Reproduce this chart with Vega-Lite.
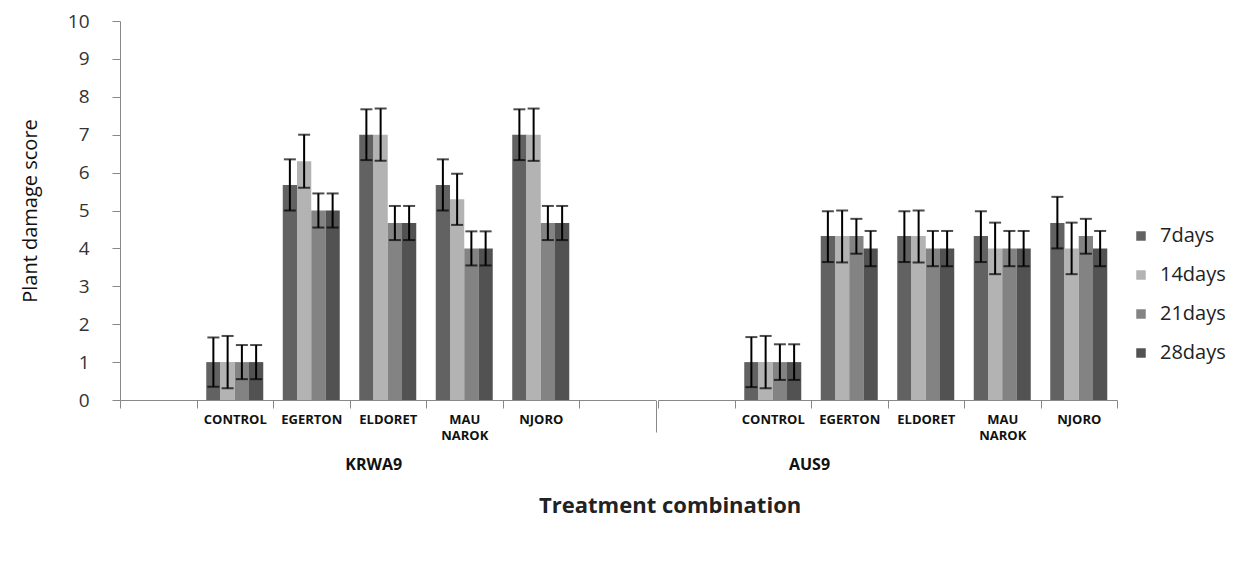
{
  "$schema": "https://vega.github.io/schema/vega-lite/v6.json",
  "background": "white",
  "padding": {"left": 20, "top": 12, "right": 5, "bottom": 5},
  "config": {"view": {"stroke": null}, "font": "Open Sans"},
  "title": {"text": "Treatment combination", "orient": "bottom", "fontSize": 22, "fontWeight": "bold", "offset": 23, "anchor": "middle", "dx": 47, "color": "#222222", "font": "Open Sans"},
  "data": {"values": [
    {"group": "KRWA9", "site": "CONTROL", "days": "7days", "value": 1.0, "lo": 0.35, "hi": 1.65},
    {"group": "KRWA9", "site": "CONTROL", "days": "14days", "value": 1.0, "lo": 0.31, "hi": 1.69},
    {"group": "KRWA9", "site": "CONTROL", "days": "21days", "value": 1.0, "lo": 0.55, "hi": 1.45},
    {"group": "KRWA9", "site": "CONTROL", "days": "28days", "value": 1.0, "lo": 0.55, "hi": 1.45},
    {"group": "KRWA9", "site": "EGERTON", "days": "7days", "value": 5.67, "lo": 5.0, "hi": 6.35},
    {"group": "KRWA9", "site": "EGERTON", "days": "14days", "value": 6.3, "lo": 5.6, "hi": 7.0},
    {"group": "KRWA9", "site": "EGERTON", "days": "21days", "value": 5.0, "lo": 4.55, "hi": 5.45},
    {"group": "KRWA9", "site": "EGERTON", "days": "28days", "value": 5.0, "lo": 4.55, "hi": 5.45},
    {"group": "KRWA9", "site": "ELDORET", "days": "7days", "value": 7.0, "lo": 6.33, "hi": 7.67},
    {"group": "KRWA9", "site": "ELDORET", "days": "14days", "value": 7.0, "lo": 6.31, "hi": 7.69},
    {"group": "KRWA9", "site": "ELDORET", "days": "21days", "value": 4.67, "lo": 4.22, "hi": 5.12},
    {"group": "KRWA9", "site": "ELDORET", "days": "28days", "value": 4.67, "lo": 4.22, "hi": 5.12},
    {"group": "KRWA9", "site": "MAU NAROK", "days": "7days", "value": 5.67, "lo": 5.0, "hi": 6.35},
    {"group": "KRWA9", "site": "MAU NAROK", "days": "14days", "value": 5.3, "lo": 4.62, "hi": 5.97},
    {"group": "KRWA9", "site": "MAU NAROK", "days": "21days", "value": 4.0, "lo": 3.55, "hi": 4.45},
    {"group": "KRWA9", "site": "MAU NAROK", "days": "28days", "value": 4.0, "lo": 3.55, "hi": 4.45},
    {"group": "KRWA9", "site": "NJORO", "days": "7days", "value": 7.0, "lo": 6.33, "hi": 7.67},
    {"group": "KRWA9", "site": "NJORO", "days": "14days", "value": 7.0, "lo": 6.31, "hi": 7.69},
    {"group": "KRWA9", "site": "NJORO", "days": "21days", "value": 4.67, "lo": 4.22, "hi": 5.12},
    {"group": "KRWA9", "site": "NJORO", "days": "28days", "value": 4.67, "lo": 4.22, "hi": 5.12},
    {"group": "AUS9", "site": "CONTROL", "days": "7days", "value": 1.0, "lo": 0.34, "hi": 1.66},
    {"group": "AUS9", "site": "CONTROL", "days": "14days", "value": 1.0, "lo": 0.31, "hi": 1.69},
    {"group": "AUS9", "site": "CONTROL", "days": "21days", "value": 1.0, "lo": 0.53, "hi": 1.47},
    {"group": "AUS9", "site": "CONTROL", "days": "28days", "value": 1.0, "lo": 0.53, "hi": 1.47},
    {"group": "AUS9", "site": "EGERTON", "days": "7days", "value": 4.33, "lo": 3.64, "hi": 4.98},
    {"group": "AUS9", "site": "EGERTON", "days": "14days", "value": 4.33, "lo": 3.63, "hi": 5.0},
    {"group": "AUS9", "site": "EGERTON", "days": "21days", "value": 4.33, "lo": 3.86, "hi": 4.78},
    {"group": "AUS9", "site": "EGERTON", "days": "28days", "value": 4.0, "lo": 3.53, "hi": 4.46},
    {"group": "AUS9", "site": "ELDORET", "days": "7days", "value": 4.33, "lo": 3.64, "hi": 4.98},
    {"group": "AUS9", "site": "ELDORET", "days": "14days", "value": 4.33, "lo": 3.63, "hi": 5.0},
    {"group": "AUS9", "site": "ELDORET", "days": "21days", "value": 4.0, "lo": 3.53, "hi": 4.46},
    {"group": "AUS9", "site": "ELDORET", "days": "28days", "value": 4.0, "lo": 3.53, "hi": 4.46},
    {"group": "AUS9", "site": "MAU NAROK", "days": "7days", "value": 4.33, "lo": 3.64, "hi": 4.98},
    {"group": "AUS9", "site": "MAU NAROK", "days": "14days", "value": 4.0, "lo": 3.32, "hi": 4.68},
    {"group": "AUS9", "site": "MAU NAROK", "days": "21days", "value": 4.0, "lo": 3.53, "hi": 4.46},
    {"group": "AUS9", "site": "MAU NAROK", "days": "28days", "value": 4.0, "lo": 3.53, "hi": 4.46},
    {"group": "AUS9", "site": "NJORO", "days": "7days", "value": 4.67, "lo": 4.0, "hi": 5.36},
    {"group": "AUS9", "site": "NJORO", "days": "14days", "value": 4.0, "lo": 3.32, "hi": 4.68},
    {"group": "AUS9", "site": "NJORO", "days": "21days", "value": 4.33, "lo": 3.86, "hi": 4.78},
    {"group": "AUS9", "site": "NJORO", "days": "28days", "value": 4.0, "lo": 3.53, "hi": 4.46}
  ]},
  "spacing": 0,
  "resolve": {"scale": {"x": "independent", "xOffset": "independent", "y": "shared", "color": "shared"}},
  "hconcat": [
    {
      "width": 535.5,
      "height": 379,
      "title": {"text": "KRWA9", "orient": "bottom", "fontSize": 16, "fontWeight": "bold", "color": "#111111", "offset": 7, "dx": -14},
      "transform": [{"filter": "datum.group == 'KRWA9'"}],
      "encoding": {
        "x": {"field": "site", "type": "nominal", "title": null,
          "scale": {"domain": ["K0", "CONTROL", "EGERTON", "ELDORET", "MAU NAROK", "NJORO", "K6"], "paddingInner": 0, "paddingOuter": 0},
          "axis": {"labelAngle": 0, "tickBand": "extent", "tickSize": {"condition": {"test": "datum.value == 'K6'", "value": 32}, "value": 8}, "tickColor": "#888888", "domainColor": "#888888", "labelFontSize": 13, "labelFontWeight": "bold", "labelColor": "#111111", "labelPadding": 5, "labelBaseline": "top", "labelLineHeight": 16,
            "labelExpr": "(datum.value == 'K0' || datum.value == 'K6') ? '' : (datum.value == 'MAU NAROK' ? ['MAU', 'NAROK'] : datum.value)"}},
        "xOffset": {"field": "days", "type": "nominal", "scale": {"domain": ["7days", "14days", "21days", "28days"], "paddingInner": 0, "paddingOuter": 0.684}}
      },
      "layer": [
        {"mark": {"type": "bar"},
          "encoding": {
            "y": {"field": "value", "type": "quantitative", "title": "Plant damage score", "scale": {"domain": [0, 10], "nice": false},
              "axis": {"values": [0,1,2,3,4,5,6,7,8,9,10], "labelOverlap": false, "grid": false, "tickSize": 8, "tickColor": "#888888", "domainColor": "#888888", "labelFontSize": 19, "labelColor": "#333333", "labelPadding": 23, "titleFontSize": 20, "titleFontWeight": "normal", "titleColor": "#111111", "titlePadding": 27}},
            "color": {"field": "days", "type": "nominal", "scale": {"domain": ["7days", "14days", "21days", "28days"], "range": ["#626262", "#b3b3b3", "#838383", "#525252"]},
              "legend": {"title": null, "orient": "none", "legendX": 1011, "legendY": 205, "symbolType": "square", "symbolSize": 90, "symbolStrokeWidth": 0, "labelFontSize": 20, "labelColor": "#222222", "rowPadding": 19, "labelOffset": 9}}
          }},
        {"mark": {"type": "rule", "strokeWidth": 2, "color": "#000000"},
          "encoding": {"y": {"field": "lo", "type": "quantitative", "title": "Plant damage score",
              "axis": {"values": [0,1,2,3,4,5,6,7,8,9,10], "labelOverlap": false, "grid": false, "tickSize": 8, "tickColor": "#888888", "domainColor": "#888888", "labelFontSize": 19, "labelColor": "#333333", "labelPadding": 23, "titleFontSize": 20, "titleFontWeight": "normal", "titleColor": "#111111", "titlePadding": 27}},
            "y2": {"field": "hi"}}},
        {"mark": {"type": "tick", "size": 12, "thickness": 2, "color": "#000000"},
          "encoding": {"y": {"field": "lo", "type": "quantitative", "title": "Plant damage score",
              "axis": {"values": [0,1,2,3,4,5,6,7,8,9,10], "labelOverlap": false, "grid": false, "tickSize": 8, "tickColor": "#888888", "domainColor": "#888888", "labelFontSize": 19, "labelColor": "#333333", "labelPadding": 23, "titleFontSize": 20, "titleFontWeight": "normal", "titleColor": "#111111", "titlePadding": 27}}}},
        {"mark": {"type": "tick", "size": 12, "thickness": 2, "color": "#000000"},
          "encoding": {"y": {"field": "hi", "type": "quantitative", "title": "Plant damage score",
              "axis": {"values": [0,1,2,3,4,5,6,7,8,9,10], "labelOverlap": false, "grid": false, "tickSize": 8, "tickColor": "#888888", "domainColor": "#888888", "labelFontSize": 19, "labelColor": "#333333", "labelPadding": 23, "titleFontSize": 20, "titleFontWeight": "normal", "titleColor": "#111111", "titlePadding": 27}}}}
      ]
    },
    {
      "width": 459,
      "height": 379,
      "title": {"text": "AUS9", "orient": "bottom", "fontSize": 16, "fontWeight": "bold", "color": "#111111", "offset": 15, "dx": -78},
      "transform": [{"filter": "datum.group == 'AUS9'"}],
      "encoding": {
        "x": {"field": "site", "type": "nominal", "title": null,
          "scale": {"domain": ["A0", "CONTROL", "EGERTON", "ELDORET", "MAU NAROK", "NJORO"], "paddingInner": 0, "paddingOuter": 0},
          "axis": {"labelAngle": 0, "tickBand": "extent", "tickSize": 8, "tickColor": "#888888", "domainColor": "#888888", "labelFontSize": 13, "labelFontWeight": "bold", "labelColor": "#111111", "labelPadding": 5, "labelBaseline": "top", "labelLineHeight": 16,
            "labelExpr": "datum.value == 'A0' ? '' : (datum.value == 'MAU NAROK' ? ['MAU', 'NAROK'] : datum.value)"}},
        "xOffset": {"field": "days", "type": "nominal", "scale": {"domain": ["7days", "14days", "21days", "28days"], "paddingInner": 0, "paddingOuter": 0.684}}
      },
      "layer": [
        {"mark": {"type": "bar"},
          "encoding": {
            "y": {"field": "value", "type": "quantitative", "scale": {"domain": [0, 10], "nice": false}, "axis": null},
            "color": {"field": "days", "type": "nominal", "scale": {"domain": ["7days", "14days", "21days", "28days"], "range": ["#626262", "#b3b3b3", "#838383", "#525252"]},
              "legend": {"title": null, "orient": "none", "legendX": 1011, "legendY": 205, "symbolType": "square", "symbolSize": 90, "symbolStrokeWidth": 0, "labelFontSize": 20, "labelColor": "#222222", "rowPadding": 19, "labelOffset": 9}}
          }},
        {"mark": {"type": "rule", "strokeWidth": 2, "color": "#000000"},
          "encoding": {"y": {"field": "lo", "type": "quantitative", "axis": null}, "y2": {"field": "hi"}}},
        {"mark": {"type": "tick", "size": 12, "thickness": 2, "color": "#000000"},
          "encoding": {"y": {"field": "lo", "type": "quantitative", "axis": null}}},
        {"mark": {"type": "tick", "size": 12, "thickness": 2, "color": "#000000"},
          "encoding": {"y": {"field": "hi", "type": "quantitative", "axis": null}}}
      ]
    }
  ]
}
